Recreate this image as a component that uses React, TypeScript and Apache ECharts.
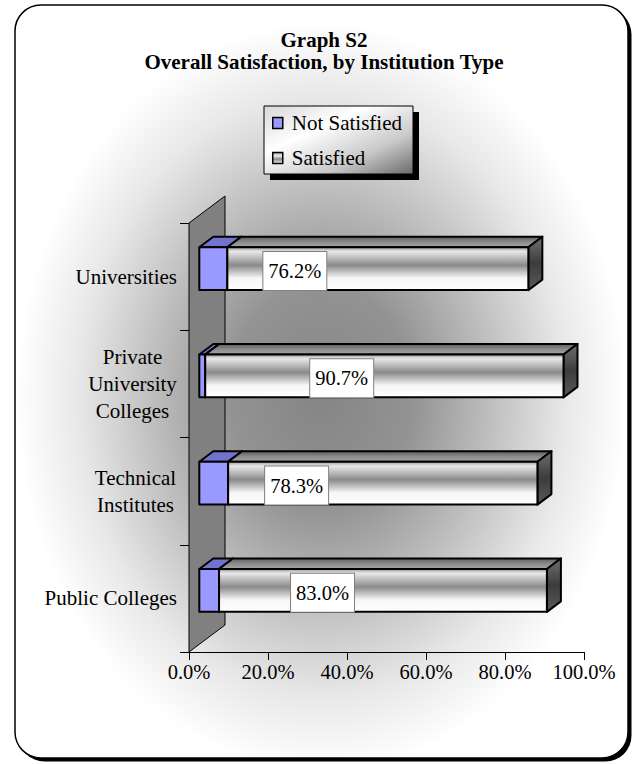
import React, { useEffect, useRef } from 'react';
import * as echarts from 'echarts';

const categories = ['Universities', 'Private\nUniversity\nColleges', 'Technical\nInstitutes', 'Public Colleges'];
const notSatisfied = [7.1, 1.5, 7.3, 5.0];
const satisfied = [76.2, 90.7, 78.3, 83.0];
const xTicks = [0, 20, 40, 60, 80, 100];
const seriesNames = ['Not Satisfied', 'Satisfied'];
const labelShift = [36, 105, 37, 72];

const FONT = "'Liberation Serif', 'Times New Roman', Times, serif";
const WALL = [36, -27];
const FRONT = [10.3, -8];
const BAR_DEPTH = [14, -10.5];

const lg = (stops: [number, string][], x2 = 0, y2 = 1) =>
  new echarts.graphic.LinearGradient(0, 0, x2, y2, stops.map(([offset, color]) => ({ offset, color })));

function barRenderer(kind: 'ns' | 's') {
  return (params: any, api: any) => {
    const start = api.value(0);
    const end = api.value(1);
    const cat = api.value(2);
    const val = api.value(3);
    const p0 = api.coord([start, cat]);
    const p1 = api.coord([end, cat]);
    const h = api.size([0, 1])[1] * 0.4;
    const x0 = p0[0] + FRONT[0];
    const x1 = p1[0] + FRONT[0];
    const yc = p0[1] + FRONT[1];
    const yt = yc - h / 2;
    const yb = yc + h / 2;
    const [dx, dy] = BAR_DEPTH;
    const stroke = { stroke: '#000', lineWidth: 2, lineJoin: 'round' };
    const children: any[] = [];
    children.push({
      type: 'polygon',
      shape: { points: [[x0, yt], [x1, yt], [x1 + dx, yt + dy], [x0 + dx, yt + dy]] },
      style: {
        fill: kind === 'ns' ? '#7272cf' : lg([[0, '#5e5e5e'], [0.5, '#8a8a8a'], [1, '#a6a6a6']]),
        ...stroke,
      },
    });
    children.push({
      type: 'polygon',
      shape: { points: [[x1, yt], [x1 + dx, yt + dy], [x1 + dx, yb + dy], [x1, yb]] },
      style: {
        fill: kind === 'ns' ? '#6666bb' : lg([[0, '#707070'], [0.5, '#3c3c3c'], [1, '#5a5a5a']]),
        ...stroke,
      },
    });
    children.push({
      type: 'rect',
      shape: { x: x0, y: yt, width: x1 - x0, height: h },
      style: {
        fill:
          kind === 'ns'
            ? '#9999ff'
            : lg([
                [0, '#9a9a9a'],
                [0.1, '#e8e8e8'],
                [0.42, '#8a8a8a'],
                [0.72, '#f6f6f6'],
                [1, '#ffffff'],
              ]),
        ...stroke,
      },
    });
    if (kind === 's') {
      children.push({
        type: 'text',
        x: x0 + labelShift[params.dataIndex],
        y: yb,
        style: {
          text: `${val.toFixed(1)}%`,
          fill: '#000',
          fontFamily: FONT,
          fontSize: 20.5,
          lineHeight: 22,
          align: 'left',
          verticalAlign: 'bottom',
          backgroundColor: '#ffffff',
          borderColor: '#808080',
          borderWidth: 1,
          padding: [8, 5, 8, 5],
        },
      });
    }
    return { type: 'group', children };
  };
}

export default function App() {
  const ref = useRef<HTMLDivElement>(null);
  useEffect(() => {
    if (!ref.current) return;
    const chart = echarts.init(ref.current, undefined, { renderer: 'svg' });
    const nsData = categories.map((_, i) => [0, notSatisfied[i], i, notSatisfied[i]]);
    const sData = categories.map((_, i) => [notSatisfied[i], notSatisfied[i] + satisfied[i], i, satisfied[i]]);
    const option: any = {
      animation: false,
      title: {
        text: 'Graph S2\nOverall Satisfaction, by Institution Type',
        left: 324,
        top: 29,
        padding: 0,
        textAlign: 'center',
        textStyle: { fontFamily: FONT, fontWeight: 'bold', fontSize: 21, lineHeight: 22, color: '#000' },
      },
      legend: {
        left: 272,
        top: 112.5,
        orient: 'vertical',
        itemWidth: 10,
        itemHeight: 11,
        itemGap: 14,
        padding: 0,
        selectedMode: false,
        data: [
          { name: seriesNames[0], icon: 'rect', itemStyle: { color: '#9999ff', borderColor: '#000', borderWidth: 1.5 } },
          {
            name: seriesNames[1],
            icon: 'rect',
            itemStyle: {
              color: lg([[0, '#9a9a9a'], [0.3, '#eeeeee'], [0.6, '#8a8a8a'], [1, '#f4f4f4']]),
              borderColor: '#000',
              borderWidth: 1.5,
            },
          },
        ],
        textStyle: { fontFamily: FONT, fontSize: 21, lineHeight: 21, color: '#000', padding: [0, 0, 0, 4] },
      },
      graphic: [
        { type: 'rect', z: -3, shape: { x: 18.5, y: 8.5, width: 613, height: 753, r: 26 }, style: { fill: '#000' } },
        {
          type: 'rect',
          z: -2,
          shape: { x: 15, y: 5, width: 613, height: 753, r: 26 },
          style: { fill: '#fff', stroke: '#000', lineWidth: 1.5 },
        },
        {
          type: 'rect',
          z: -1,
          shape: { x: 16.5, y: 6.5, width: 610, height: 750, r: 24 },
          style: {
            fill: new echarts.graphic.RadialGradient(0.5, 0.52, 0.5, [
              { offset: 0, color: '#858585' },
              { offset: 0.3, color: '#939393' },
              { offset: 0.6, color: '#c6c6c6' },
              { offset: 0.8, color: '#e8e8e8' },
              { offset: 1, color: '#ffffff' },
            ]),
          },
        },
        { type: 'rect', z: 3, shape: { x: 270, y: 112, width: 149, height: 68 }, style: { fill: '#000' } },
        {
          type: 'rect',
          z: 3,
          shape: { x: 264, y: 106, width: 149, height: 68 },
          style: {
            fill: lg([[0, '#d8d8d8'], [0.35, '#ffffff'], [0.7, '#c8c8c8'], [1, '#6a6a6a']], 1, 1),
            stroke: '#000',
            lineWidth: 1,
          },
        },
      ],
      grid: { left: 189, top: 223, width: 395, height: 429, containLabel: false },
      xAxis: {
        type: 'value',
        min: xTicks[0],
        max: xTicks[xTicks.length - 1],
        interval: xTicks[1] - xTicks[0],
        splitLine: { show: false },
        axisLine: { show: true, lineStyle: { color: '#000', width: 1 } },
        axisTick: { show: true, length: 8, lineStyle: { color: '#000' } },
        axisLabel: {
          margin: 9,
          color: '#000',
          fontFamily: FONT,
          fontSize: 20.5,
          formatter: (v: number) => `${v.toFixed(1)}%`,
        },
      },
      yAxis: {
        type: 'category',
        inverse: true,
        data: categories,
        axisLine: { show: true, lineStyle: { color: '#000', width: 1 } },
        axisTick: { show: true, length: 9, lineStyle: { color: '#000' } },
        axisLabel: {
          margin: 12,
          color: '#000',
          fontFamily: FONT,
          fontSize: 21,
          lineHeight: 27,
          formatter: (v: string) => {
            const lines = v.split('\n');
            if (lines.length === 1) return v;
            const key = lines.length === 3 ? 'p' : 't';
            return lines.map((l) => `{${key}|${l}}`).join('\n');
          },
          rich: {
            p: { width: 89, align: 'center', fontFamily: FONT, fontSize: 21, lineHeight: 27, color: '#000' },
            t: { width: 83, align: 'center', fontFamily: FONT, fontSize: 21, lineHeight: 27, color: '#000' },
          },
        },
      },
      series: [
        {
          type: 'custom',
          name: 'wall',
          z: 1,
          silent: true,
          data: [[0, 0]],
          encode: { x: 0, y: 1 },
          renderItem: (params: any) => {
            const cs = params.coordSys;
            const x = cs.x;
            const yTop = cs.y;
            const yBot = cs.y + cs.height;
            return {
              type: 'polygon',
              shape: {
                points: [
                  [x, yBot],
                  [x, yTop],
                  [x + WALL[0], yTop + WALL[1]],
                  [x + WALL[0], yBot + WALL[1]],
                ],
              },
              style: { fill: '#808080', stroke: '#000', lineWidth: 1 },
            };
          },
        },
        {
          type: 'custom',
          name: seriesNames[0],
          z: 2,
          data: nsData,
          encode: { x: [0, 1], y: 2 },
          renderItem: barRenderer('ns'),
        },
        {
          type: 'custom',
          name: seriesNames[1],
          z: 3,
          data: sData,
          encode: { x: [0, 1], y: 2 },
          renderItem: barRenderer('s'),
        },
      ],
    };
    chart.setOption(option);
    return () => chart.dispose();
  }, []);
  return (
    <div
      ref={ref}
      style={{ position: 'fixed', left: 0, top: 0, width: 636, height: 764, background: '#fff' }}
    />
  );
}
